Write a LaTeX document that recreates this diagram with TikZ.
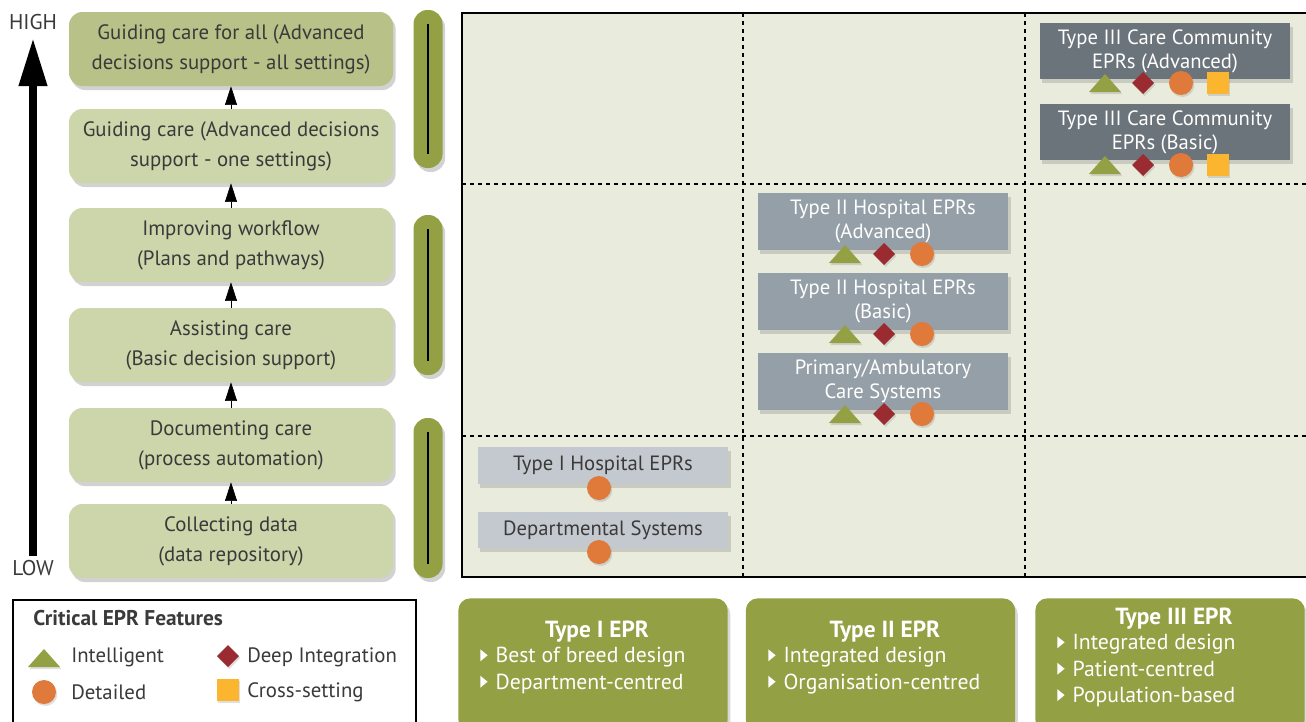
\documentclass[tikz,border=0pt]{standalone}
\usepackage{fontspec}
\setmainfont{PT Sans}
\usetikzlibrary{arrows.meta,shadows,shapes.geometric}
\definecolor{leftDark}{HTML}{B7C188}
\definecolor{leftLight}{HTML}{CDD5AB}
\definecolor{pillG}{HTML}{93A044}
\definecolor{gridBg}{HTML}{E9ECDC}
\definecolor{tThree}{HTML}{6B747B}
\definecolor{tTwo}{HTML}{959FA7}
\definecolor{tOne}{HTML}{C4C9CF}
\definecolor{icoTri}{HTML}{93A044}
\definecolor{icoDia}{HTML}{9A2B30}
\definecolor{icoCir}{HTML}{DF7A3A}
\definecolor{icoSq}{HTML}{FBB52F}
\definecolor{txtDark}{HTML}{3A3A3A}
\newcommand{\icTri}[2]{\fill[icoTri,drop shadow={opacity=0.25,shadow xshift=1pt,shadow yshift=-1.5pt}] (#1-16,#2+9) -- (#1+16,#2+9) -- (#1,#2-9) -- cycle;}
\newcommand{\icDia}[2]{\fill[icoDia,drop shadow={opacity=0.25,shadow xshift=1pt,shadow yshift=-1.5pt}] (#1-11,#2) -- (#1,#2-11) -- (#1+11,#2) -- (#1,#2+11) -- cycle;}
\newcommand{\icCir}[2]{\fill[icoCir,drop shadow={opacity=0.25,shadow xshift=1pt,shadow yshift=-1.5pt}] (#1,#2) circle[radius=12];}
\newcommand{\icSq}[2]{\fill[icoSq,drop shadow={opacity=0.25,shadow xshift=1pt,shadow yshift=-1.5pt}] (#1-11,#2-11) rectangle (#1+11,#2+11);}
\newcommand{\bul}{\raisebox{1pt}{\tikz\fill[white] (0pt,0pt) -- (0pt,9pt) -- (5.5pt,4.5pt) -- cycle;}\hspace{6pt}}
\begin{document}
\begin{tikzpicture}[x=0.75pt,y=-0.75pt,
  lvl/.style={rounded corners=10pt,minimum width=243pt,minimum height=55.5pt,align=center,
     text=txtDark,font=\fontsize{15.6pt}{22.5pt}\selectfont,inner sep=1pt,
     drop shadow={opacity=0.35,shadow xshift=2pt,shadow yshift=-3pt}},
  pill/.style={fill=pillG,rounded corners=10.5pt,minimum width=21.75pt,
     drop shadow={opacity=0.35,shadow xshift=2pt,shadow yshift=-3pt}},
  epr/.style={minimum width=188pt,align=center,font=\fontsize{15.5pt}{18pt}\selectfont,inner sep=1pt,
     drop shadow={opacity=0.3,shadow xshift=2pt,shadow yshift=-3pt}},
  typebox/.style={fill=pillG,rounded corners=9pt,minimum width=202pt,minimum height=100pt,
     drop shadow={opacity=0.3,shadow xshift=2pt,shadow yshift=-3pt}},
  typetxt/.style={text=white,align=left,anchor=north west,inner sep=0pt,font=\fontsize{16.3pt}{19.8pt}\selectfont},
  typehead/.style={text=white,inner sep=0pt,font=\bfseries\fontsize{17.5pt}{17.5pt}\selectfont},
  grid/.style={black,dashed,line width=0.8pt},
  lgd/.style={anchor=west,text=txtDark,inner sep=0pt,font=\fontsize{15.6pt}{18pt}\selectfont}
]
\useasboundingbox (0,0) rectangle (1306,721);
\fill[white] (0,0) rectangle (1306,721);

% main grid
\fill[gridBg] (462,13) rectangle (1306,577);
\draw[grid] (743,13) -- (743,577);
\draw[grid] (1025,13) -- (1025,577);
\draw[grid] (462,184) -- (1306,184);
\draw[grid] (462,436) -- (1306,436);
\draw[line width=2pt] (1306,13) -- (462,13) -- (462,577) -- (1306,577);

% left level boxes
\node[lvl,fill=leftDark]  (b1) at (231,49)  {Guiding care for all (Advanced\\decisions support - all settings)};
\node[lvl,fill=leftLight] (b2) at (231,146) {Guiding care (Advanced decisions\\support - one settings)};
\node[lvl,fill=leftLight] (b3) at (231,245) {Improving workflow\\(Plans and pathways)};
\node[lvl,fill=leftLight] (b4) at (231,345) {Assisting care\\(Basic decision support)};
\node[lvl,fill=leftLight] (b5) at (231,445) {Documenting care\\(process automation)};
\node[lvl,fill=leftLight] (b6) at (231,541) {Collecting data\\(data repository)};
\foreach \a/\b in {b2/b1,b3/b2,b4/b3,b5/b4,b6/b5}
  \draw[line width=0.5pt,-{Triangle[length=14pt,width=9pt]}] (\a.north) -- (\b.south);

% big arrow
\node[text=txtDark,font=\fontsize{16pt}{16pt}\selectfont] (high) at (33,22) {HIGH};
\node[text=txtDark,font=\fontsize{16pt}{16pt}\selectfont] (low) at (33,568) {LOW};
\coordinate (abot) at (33,556);
\coordinate (atop) at (33,38);
\draw[line width=6pt,-{Triangle[length=36pt,width=20pt]}] (abot) -- (atop);

% pills
\node[pill,minimum height=118.5pt] (p1) at (428,89) {};
\node[pill,minimum height=120pt] (p2) at (428,295) {};
\node[pill,minimum height=120pt] (p3) at (428,498) {};
\foreach \p/\t/\u in {p1/24/154,p2/229/361,p3/432/564}
  \draw[line width=2pt] (428,\t) -- (428,\u);

% grid nodes
\node[epr,fill=tThree,text=white,minimum height=42pt] (t3a) at (1165,51) {Type III Care Community\\EPRs (Advanced)};
\node[epr,fill=tThree,text=white,minimum height=42pt] (t3b) at (1165,132) {Type III Care Community\\EPRs (Basic)};
\node[epr,fill=tTwo,text=white,minimum height=42.75pt] (t2a) at (883,221.5) {Type II Hospital EPRs\\(Advanced)};
\node[epr,fill=tTwo,text=white,minimum height=42.75pt] (t2b) at (883,301.5) {Type II Hospital EPRs\\(Basic)};
\node[epr,fill=tTwo,text=white,minimum height=42.75pt] (t2c) at (883,381.5) {Primary/Ambulatory\\Care Systems};
\node[epr,fill=tOne,text=txtDark,minimum height=27.75pt] (t1a) at (603,465.5) {Type I Hospital EPRs};
\node[epr,fill=tOne,text=txtDark,minimum height=27pt] (t1b) at (603,530) {Departmental Systems};

% icons
\foreach \y in {83,165}{\icTri{1105}{\y}\icDia{1143}{\y}\icCir{1181}{\y}\icSq{1218}{\y}}
\foreach \y in {254,334,414}{\icTri{845}{\y}\icDia{884}{\y}\icCir{922}{\y}}
\icCir{599}{488}
\icCir{599}{552}

% legend
\draw[line width=1.5pt,fill=white] (13,740) -- (13,600) -- (416,600) -- (416,740);
\node[lgd,font=\bfseries\fontsize{16pt}{18pt}\selectfont] (lt) at (33,618) {Critical EPR Features};
\icTri{44}{658}
\node[lgd] (l1) at (71,657) {Intelligent};
\icCir{44}{692}
\node[lgd] (l2) at (71,692) {Detailed};
\icDia{228}{656}
\node[lgd] (l3) at (247,657) {Deep Integration};
\icSq{228}{690}
\node[lgd] (l4) at (247,692) {Cross-setting};

% type boxes
\node[typebox] (ty1) at (593,665) {};
\node[typebox] (ty2) at (880.5,665) {};
\node[typebox] (ty3) at (1170,665) {};
\node[typehead] (ty1t) at (597,632) {Type I EPR};
\node[typetxt] (ty1l) at (480,647) {\bul Best of breed design\\\bul Department-centred};
\node[typehead] (ty2t) at (885,632) {Type II EPR};
\node[typetxt] (ty2l) at (768,647) {\bul Integrated design\\\bul Organisation-centred};
\node[typehead] (ty3t) at (1174,619) {Type III EPR};
\node[typetxt] (ty3l) at (1057,634) {\bul Integrated design\\\bul Patient-centred\\\bul Population-based};
\end{tikzpicture}
\end{document}
